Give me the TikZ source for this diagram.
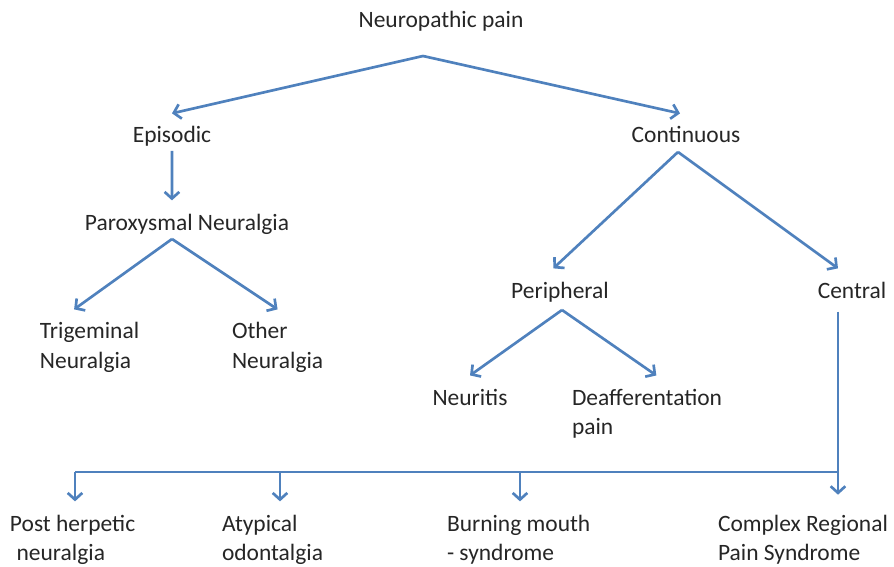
\documentclass[tikz,border=0pt]{standalone}
\usepackage{fontspec}
\setmainfont{Carlito}
\usetikzlibrary{arrows.meta}
\definecolor{linkblue}{RGB}{79,129,189}
\definecolor{labelgray}{RGB}{38,38,38}
\begin{document}
\begin{tikzpicture}[x=0.75pt,y=-0.75pt,
  lbl/.style={inner sep=0pt,outer xsep=0pt,outer ysep=10pt,text=labelgray,font=\fontsize{17.6}{21.75}\selectfont,anchor=base},
  lbltwo/.style={lbl,align=left,anchor=base west},
  stem/.style={draw=linkblue,line width=2pt},
  link/.style={stem,-{Straight Barb[length=5pt,width=11pt]}}]
\useasboundingbox (0,0) rectangle (894,567);
\node[lbl] (neuro) at (441,28) {Neuropathic pain};
\node[lbl] (episodic) at (172,143) {Episodic};
\node[lbl] (continuous) at (686,143) {Continuous};
\node[lbl] (paroxysmal) at (187,230) {Paroxysmal Neuralgia};
\node[lbltwo] (trigeminal) at (40,368) {Trigeminal\\Neuralgia};
\node[lbltwo] (other) at (232,368) {Other\\Neuralgia};
\node[lbl] (peripheral) at (560,298) {Peripheral};
\node[lbl] (central) at (852,298) {Central};
\node[lbl] (neuritis) at (470,405) {Neuritis};
\node[lbltwo] (deaff) at (572,434) {Deafferentation\\pain};
\node[lbltwo] (posther) at (10,560) {Post herpetic\\\hspace*{5pt}neuralgia};
\node[lbltwo] (atypical) at (222,560) {Atypical\\odontalgia};
\node[lbltwo] (burning) at (447,560) {Burning mouth\\- syndrome};
\node[lbltwo] (complex) at (718,560) {Complex Regional\\Pain Syndrome};
\coordinate (topfork) at (423,56);
\coordinate (parfork) at (172,239);
\coordinate (contfork) at (678,152);
\coordinate (perifork) at (562,310);
\coordinate (bus1) at (75,472);
\coordinate (bus2) at (280,472);
\coordinate (bus3) at (520,472);
\coordinate (bus4) at ([xshift=-10.5pt]central.south |- bus1);
\draw[link] (topfork) -- (episodic.north);
\draw[link] (topfork) -- ([xshift=-4.5pt]continuous.north);
\draw[link] ([yshift=7pt]episodic.south) -- ([xshift=-11.3pt]paroxysmal.north);
\draw[link] (parfork) -- ([xshift=-11.6pt]trigeminal.north);
\draw[link] (parfork) -- (other.north);
\draw[link] (contfork) -- ([xshift=-5pt]peripheral.north);
\draw[link] (contfork) -- ([xshift=-10.5pt]central.north);
\draw[link] (perifork) -- (neuritis.north);
\draw[link] (perifork) -- ([xshift=7pt]deaff.north);
\draw[stem] ([xshift=-10.5pt]central.south) -- (bus4) -- (bus1);
\draw[link] (bus1) -- (bus1 |- posther.north);
\draw[link] (bus2) -- (bus2 |- atypical.north);
\draw[link] (bus3) -- (bus3 |- burning.north);
\draw[link,shorten >=5pt] (bus4) -- (bus4 |- complex.north);
\end{tikzpicture}
\end{document}
